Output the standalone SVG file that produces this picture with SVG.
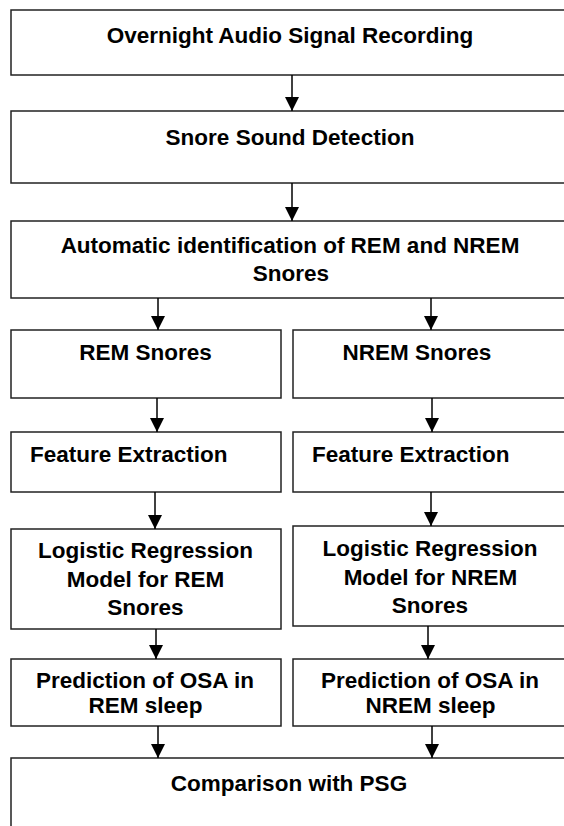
<svg xmlns="http://www.w3.org/2000/svg" width="564" height="826" viewBox="0 0 564 826">
<style>
.box{fill:#fff;stroke:#222;stroke-width:1.5}
.t{font-family:"Liberation Sans",Arial,sans-serif;font-weight:bold;font-size:22.5px;fill:#000;text-anchor:middle}
.s{text-anchor:start}
.c{stroke:#000;stroke-width:1.5;fill:none}
</style>
<defs>
<marker id="ah" markerWidth="14" markerHeight="15" refX="14" refY="7" orient="auto" markerUnits="userSpaceOnUse">
<path d="M0,0 L14,7 L0,14 Z" fill="#000"/>
</marker>
</defs>
<rect width="564" height="826" fill="#fff"/>
<g id="n1"><rect class="box" x="11" y="10" width="570" height="65"/><text class="t" x="290" y="43">Overnight Audio Signal Recording</text></g>
<g id="n2"><rect class="box" x="11" y="111" width="570" height="72"/><text class="t" x="290" y="145">Snore Sound Detection</text></g>
<g id="n3"><rect class="box" x="11" y="221" width="570" height="77"/><text class="t" x="290" y="253">Automatic identification of REM and NREM</text><text class="t" x="291" y="281">Snores</text></g>
<g id="n4"><rect class="box" x="11" y="330" width="270" height="68"/><text class="t" x="145.5" y="360">REM Snores</text></g>
<g id="n5"><rect class="box" x="293" y="330" width="290" height="68"/><text class="t" x="417" y="360">NREM Snores</text></g>
<g id="n6"><rect class="box" x="11" y="432" width="270" height="60"/><text class="t s" x="30" y="462">Feature Extraction</text></g>
<g id="n7"><rect class="box" x="293" y="432" width="290" height="60"/><text class="t s" x="312" y="462">Feature Extraction</text></g>
<g id="n8"><rect class="box" x="11" y="529" width="270" height="100"/><text class="t" x="145.5" y="558">Logistic Regression</text><text class="t" x="145.5" y="587">Model for REM</text><text class="t" x="145.5" y="615">Snores</text></g>
<g id="n9"><rect class="box" x="293" y="526" width="290" height="100"/><text class="t" x="430" y="556">Logistic Regression</text><text class="t" x="430.5" y="585">Model for NREM</text><text class="t" x="430" y="613">Snores</text></g>
<g id="n10"><rect class="box" x="11" y="659" width="270" height="67"/><text class="t" x="145" y="688">Prediction of OSA in</text><text class="t" x="145.5" y="713">REM sleep</text></g>
<g id="n11"><rect class="box" x="293" y="659" width="290" height="67"/><text class="t" x="430" y="688">Prediction of OSA in</text><text class="t" x="430.5" y="713">NREM sleep</text></g>
<g id="n12"><rect class="box" x="11" y="758" width="570" height="90"/><text class="t" x="289" y="791">Comparison with PSG</text></g>
<g id="connectors">
<line class="c" x1="292" y1="75" x2="292" y2="111" marker-end="url(#ah)"/>
<line class="c" x1="292" y1="183" x2="292" y2="221" marker-end="url(#ah)"/>
<line class="c" x1="158" y1="298" x2="158" y2="330" marker-end="url(#ah)"/>
<line class="c" x1="431" y1="298" x2="431" y2="330" marker-end="url(#ah)"/>
<line class="c" x1="157" y1="398" x2="157" y2="432" marker-end="url(#ah)"/>
<line class="c" x1="432" y1="398" x2="432" y2="432" marker-end="url(#ah)"/>
<line class="c" x1="155" y1="492" x2="155" y2="529" marker-end="url(#ah)"/>
<line class="c" x1="431" y1="492" x2="431" y2="526" marker-end="url(#ah)"/>
<line class="c" x1="156" y1="629" x2="156" y2="659" marker-end="url(#ah)"/>
<line class="c" x1="428" y1="626" x2="428" y2="659" marker-end="url(#ah)"/>
<line class="c" x1="158" y1="726" x2="158" y2="758" marker-end="url(#ah)"/>
<line class="c" x1="432" y1="726" x2="432" y2="758" marker-end="url(#ah)"/>
</g>
</svg>
